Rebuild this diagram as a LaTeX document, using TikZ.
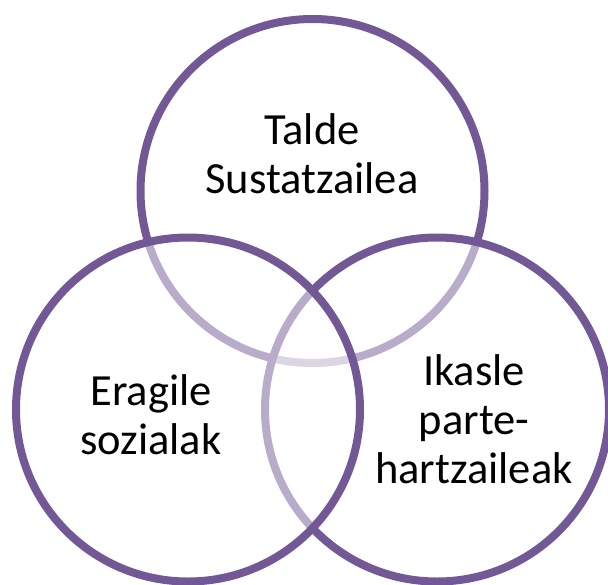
\documentclass[tikz,border=0pt]{standalone}
\usepackage{fontspec}
\setmainfont{Carlito}
\definecolor{vpurple}{RGB}{114,89,149}
\begin{document}
\begin{tikzpicture}[x=1pt,y=-1pt,
  ring/.style={draw=vpurple, line width=8pt, fill=white, fill opacity=0.5},
  lbl/.style={align=center, anchor=base, inner sep=0pt, text=black,
    font=\fontsize{44.5}{49}\selectfont}]
\useasboundingbox[fill=white] (0,0) rectangle (608,584);
\path[ring] (312.5,191) circle[radius=172];
\path[ring] (437,409.5) circle[radius=172];
\path[ring] (188,409.5) circle[radius=172];
\node[lbl] (top) at (312,193) {Talde\\Sustatzailea};
\node[lbl] (left) at (151,454) {Eragile\\sozialak};
\node[lbl] (right) at (474,483) {Ikasle\\parte-\\hartzaileak};
\end{tikzpicture}
\end{document}
